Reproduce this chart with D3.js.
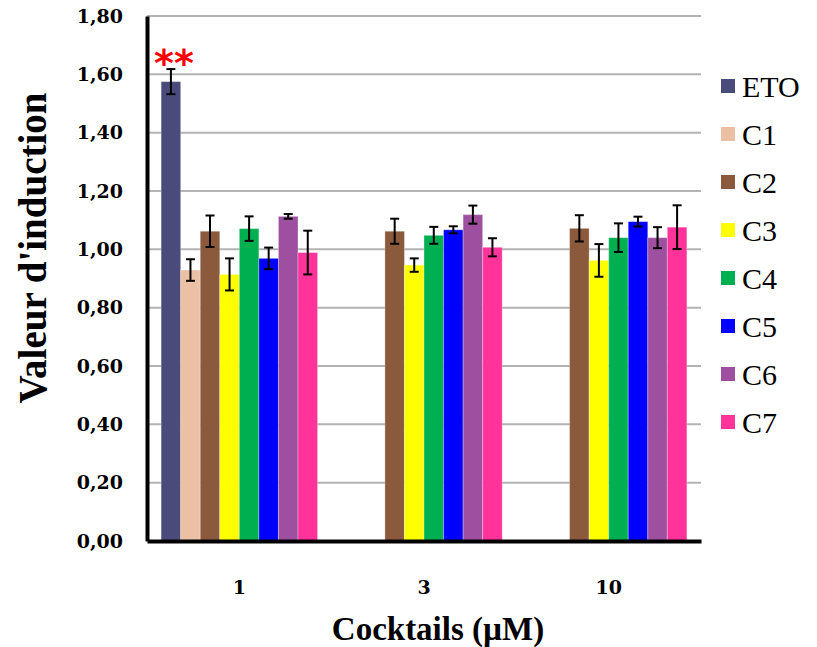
<!DOCTYPE html>
<html>
<head>
<meta charset="utf-8">
<script src="https://cdn.jsdelivr.net/npm/d3@7"></script>
<style>
  body { margin: 0; background: #fff; }
  svg { display: block; }
</style>
</head>
<body>
<svg id="chart" width="817" height="647"></svg>
<script>
// concentrations on the x axis
const groups = ["1", "3", "10"];
const series = ["ETO", "C1", "C2", "C3", "C4", "C5", "C6", "C7"];
const colors = ["#4a4a7b", "#ebc0a5", "#8b5a3c", "#ffff00", "#00b050", "#0000ff", "#9e4fa0", "#ff3399"];

// mean induction values, one array per concentration (null = not measured)
const values1 = [1.575, 0.929, 1.062, 0.914, 1.071, 0.969, 1.113, 0.989];
const values3 = [null, null, 1.062, 0.946, 1.048, 1.067, 1.119, 1.007];
const values10 = [null, null, 1.072, 0.962, 1.040, 1.095, 1.040, 1.076];

// standard errors
const errors1 = [0.043, 0.037, 0.054, 0.055, 0.042, 0.037, 0.008, 0.075];
const errors3 = [null, null, 0.043, 0.023, 0.029, 0.012, 0.031, 0.031];
const errors10 = [null, null, 0.045, 0.056, 0.049, 0.017, 0.036, 0.075];

const yTicks = [0, 0.2, 0.4, 0.6, 0.8, 1.0, 1.2, 1.4, 1.6, 1.8];

const allValues = [values1, values3, values10];
const allErrors = [errors1, errors3, errors10];

const data = [];
groups.forEach((g, gi) => {
  series.forEach((s, si) => {
    const v = allValues[gi][si];
    if (v === null) return;
    data.push({ group: g, name: s, value: v, err: allErrors[gi][si], color: colors[si] });
  });
});

const svg = d3.select("#chart");

const plotLeft = 147, plotRight = 701, plotTop = 16, plotBottom = 541;

const x0 = d3.scaleBand()
  .domain(groups)
  .range([plotLeft, plotRight])
  .paddingInner(0.153)
  .paddingOuter(0.0765);

const x1 = d3.scaleBand()
  .domain(series)
  .range([0, x0.bandwidth()]);

const y = d3.scaleLinear()
  .domain([0, 1.8])
  .range([plotBottom, plotTop]);

const color = d3.scaleOrdinal().domain(series).range(colors);

// gridlines
svg.append("g")
  .selectAll("line")
  .data(yTicks.filter(d => d > 0))
  .join("line")
  .attr("x1", plotLeft)
  .attr("x2", plotRight)
  .attr("y1", d => y(d))
  .attr("y2", d => y(d))
  .attr("stroke", "#b3b3b3")
  .attr("stroke-width", 2);

// bars
svg.append("g")
  .selectAll("rect")
  .data(data)
  .join("rect")
  .attr("x", d => x0(d.group) + x1(d.name))
  .attr("y", d => y(d.value))
  .attr("width", x1.bandwidth())
  .attr("height", d => y(0) - y(d.value))
  .attr("fill", d => color(d.name))
  .attr("stroke", "#fff")
  .attr("stroke-opacity", 0.3)
  .attr("stroke-width", 1);

// error bars
const cap = 4.5;
const cx = d => x0(d.group) + x1(d.name) + x1.bandwidth() / 2;
const eb = svg.append("g")
  .attr("stroke", "#000")
  .attr("stroke-width", 2);

eb.selectAll(".stem")
  .data(data)
  .join("line")
  .attr("class", "stem")
  .attr("x1", cx)
  .attr("x2", cx)
  .attr("y1", d => y(d.value + d.err))
  .attr("y2", d => y(d.value - d.err));

eb.selectAll(".capTop")
  .data(data)
  .join("line")
  .attr("class", "capTop")
  .attr("x1", d => cx(d) - cap)
  .attr("x2", d => cx(d) + cap)
  .attr("y1", d => y(d.value + d.err))
  .attr("y2", d => y(d.value + d.err));

eb.selectAll(".capBot")
  .data(data)
  .join("line")
  .attr("class", "capBot")
  .attr("x1", d => cx(d) - cap)
  .attr("x2", d => cx(d) + cap)
  .attr("y1", d => y(d.value - d.err))
  .attr("y2", d => y(d.value - d.err));

// y axis
const yAxis = svg.append("g")
  .attr("transform", `translate(${plotLeft},0)`)
  .call(d3.axisLeft(y)
    .tickValues(yTicks)
    .tickSize(0)
    .tickPadding(24)
    .tickFormat(d => d3.format(".2f")(d).replace(".", ",")));

yAxis.select(".domain")
  .attr("stroke", "#000")
  .attr("stroke-width", 4);

yAxis.selectAll("text")
  .attr("fill", "#000")
  .style("font-family", "'DejaVu Serif', serif")
  .style("font-weight", "bold")
  .style("font-size", "19px");

// x axis
const xAxis = svg.append("g")
  .attr("transform", `translate(0,${plotBottom})`)
  .call(d3.axisBottom(x0).tickSize(0).tickPadding(40));

xAxis.select(".domain")
  .attr("stroke", "#000")
  .attr("stroke-width", 4);

xAxis.selectAll("text")
  .attr("fill", "#000")
  .style("font-family", "'DejaVu Serif', serif")
  .style("font-weight", "bold")
  .style("font-size", "19px");

// axis titles
svg.append("text")
  .attr("transform", "translate(46,248) rotate(-90)")
  .attr("text-anchor", "middle")
  .style("font-family", "'Liberation Serif', serif")
  .style("font-weight", "bold")
  .style("font-size", "39px")
  .text("Valeur d'induction");

svg.append("text")
  .attr("x", 438)
  .attr("y", 640)
  .attr("text-anchor", "middle")
  .style("font-family", "'Liberation Serif', serif")
  .style("font-weight", "bold")
  .style("font-size", "33px")
  .text("Cocktails (µM)");

// significance mark over ETO
svg.append("text")
  .attr("x", cx(data[0]) + 3)
  .attr("y", 76)
  .attr("text-anchor", "middle")
  .attr("fill", "#ff0000")
  .style("font-family", "'DejaVu Sans', sans-serif")
  .style("font-weight", "bold")
  .style("font-size", "38px")
  .text("**");

// legend
const legend = svg.append("g")
  .selectAll("g")
  .data(series)
  .join("g")
  .attr("transform", (d, i) => `translate(721,${86 + i * 48})`);

legend.append("rect")
  .attr("x", 0)
  .attr("y", -7)
  .attr("width", 14)
  .attr("height", 14)
  .attr("fill", d => color(d));

legend.append("text")
  .attr("x", 21)
  .attr("y", 11)
  .style("font-family", "'Liberation Serif', serif")
  .style("font-size", "30px")
  .text(d => d);
</script>
</body>
</html>
